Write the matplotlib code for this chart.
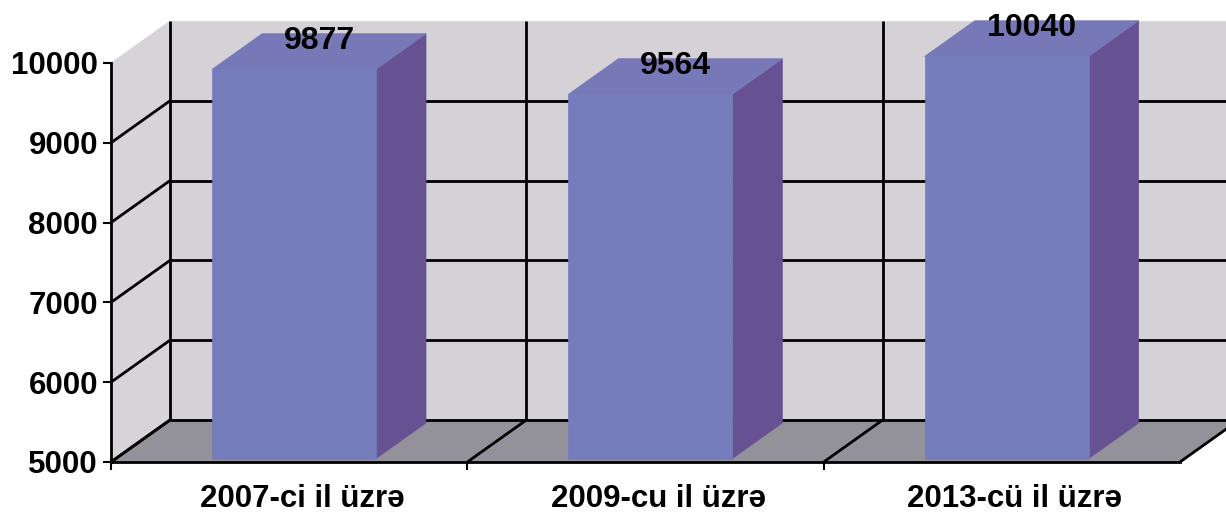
import matplotlib
matplotlib.use("Agg")
import matplotlib.pyplot as plt
from matplotlib.patches import Polygon
from matplotlib.transforms import offset_copy

categories = ["2007-ci il üzrə", "2009-cu il üzrə", "2013-cü il üzrə"]
values = [9877, 9564, 10040]
yticks = [5000, 6000, 7000, 8000, 9000, 10000]

FONT = ["Liberation Sans", "DejaVu Sans"]
plt.rcParams["font.family"] = FONT

W, H, DPI = 1226, 512, 100
fig = plt.figure(figsize=(W / DPI, H / DPI), dpi=DPI)
fig.patch.set_facecolor("white")

# front plane of the plot in pixels
x0p, x1p, y0p, y1p = 111, 1180, 462, 63
ax = fig.add_axes([x0p / W, (H - y0p) / H, (x1p - x0p) / W, (y0p - y1p) / H])
ax.set_facecolor("none")
n = len(categories)
ymin, ymax = yticks[0], yticks[-1]
ax.set_xlim(0, n)
ax.set_ylim(ymin, ymax)

# depth offset (full depth) in data units
px_per_x = (x1p - x0p) / n
px_per_y = (y0p - y1p) / (ymax - ymin)
DX = 59 / px_per_x
DY = 42 / px_per_y

wall_c = "#d4d2d6"
side_c = "#d6d4d8"
floor_c = "#939199"
lw = 2.0

def poly(pts, color, z):
    p = Polygon(pts, closed=True, facecolor=color, edgecolor=color, lw=0.5,
                clip_on=False, zorder=z)
    ax.add_patch(p)

# back wall
poly([(DX, ymin + DY), (DX, ymax + DY), (n + DX, ymax + DY), (n + DX, ymin + DY)], wall_c, 1)
# side wall
poly([(0, ymin), (0, ymax), (DX, ymax + DY), (DX, ymin + DY)], side_c, 1)
# floor
poly([(0, ymin), (n, ymin), (n + DX, ymin + DY), (DX, ymin + DY)], floor_c, 1)

line_kw = dict(color="black", lw=lw, clip_on=False, zorder=2, solid_capstyle="butt")
# back wall horizontal gridlines + side wall diagonals
for v in yticks[:-1]:
    ax.plot([DX, n + DX], [v + DY, v + DY], **line_kw)
    ax.plot([0, DX], [v, v + DY], **line_kw)
# back wall vertical lines and floor diagonals
for k in range(n + 1):
    ax.plot([k + DX, k + DX], [ymin + DY, ymax + DY], **line_kw)
    ax.plot([k, k + DX], [ymin, ymin + DY], **line_kw)

# bars
front_c = "#747cbb"
top_c = "#7678b7"
right_c = "#665292"
half = 0.23
d0, d1 = 0.08, 0.93
for i, v in enumerate(values):
    c = i + 0.5
    xl, xr = c - half, c + half
    fx0, fx1 = xl + d0 * DX, xr + d0 * DX
    by0, by1 = ymin + d0 * DY, ymin + d1 * DY
    # side face
    poly([(xr + d0 * DX, by0), (xr + d1 * DX, by1), (xr + d1 * DX, v + d1 * DY),
          (xr + d0 * DX, v + d0 * DY)], right_c, 3)
    # top face
    poly([(fx0, v + d0 * DY), (fx1, v + d0 * DY), (xr + d1 * DX, v + d1 * DY),
          (xl + d1 * DX, v + d1 * DY)], top_c, 3)
    # front face
    poly([(fx0, by0), (fx1, by0), (fx1, v + d0 * DY), (fx0, v + d0 * DY)], front_c, 4)
    # value label
    dm = (d0 + d1) / 2
    tr = offset_copy(ax.transData, fig=fig, x=0, y=3, units="dots")
    ax.text(c + dm * DX, v + dm * DY, f"{v}", transform=tr, ha="center", va="baseline",
            fontsize=23, fontweight="bold", color="black", zorder=6, clip_on=False)

# axes spines / ticks
for s in ["top", "right"]:
    ax.spines[s].set_visible(False)
for s in ["left", "bottom"]:
    ax.spines[s].set_linewidth(lw)
    ax.spines[s].set_zorder(5)
ax.set_yticks(yticks)
ax.set_yticklabels([str(t) for t in yticks])
ax.tick_params(axis="y", length=5.8, width=1.5, pad=3.6, labelsize=22.5)
for lab in ax.get_yticklabels():
    lab.set_fontweight("bold")
ax.set_xticks(range(n))
ax.set_xticklabels([])
ax.tick_params(axis="x", length=5.8, width=1.5)

trc = offset_copy(ax.transData, fig=fig, x=13, y=-45, units="dots")
for i, cat in enumerate(categories):
    ax.text(i + 0.5, ymin, cat, transform=trc, ha="center", va="baseline",
            fontsize=22.5, fontweight="bold", color="black", clip_on=False)

fig.savefig("out.png", dpi=DPI, facecolor="white")
